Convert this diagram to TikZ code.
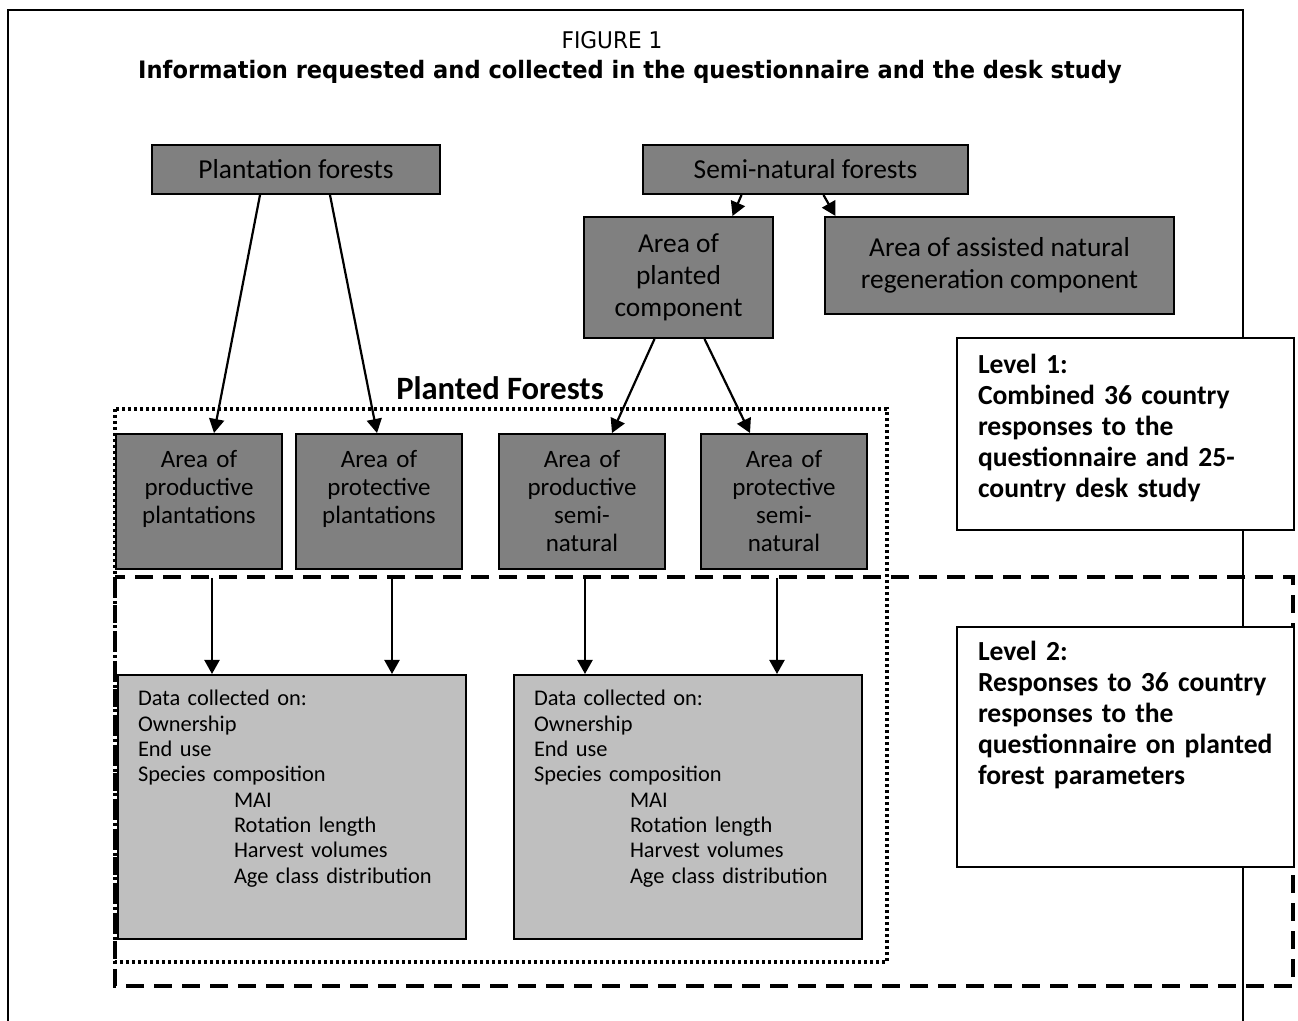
\documentclass[tikz,border=0pt]{standalone}
\usepackage{fontspec}
\setmainfont{Carlito}
\newfontfamily\titlefont{DejaVu Sans}[FakeStretch=0.94]
\usetikzlibrary{arrows.meta,positioning}
\tikzset{
  basic/.style  = {draw, line width=1pt, rectangle, inner sep=0pt},
  forest/.style = {basic, fill=black!50, align=center, font=\fontsize{13.7}{16}\selectfont},
  area/.style   = {basic, fill=black!50, align=center, text width=83pt, text height=17pt,
                   text depth=50.5pt, font=\fontsize{12.5}{14}\selectfont},
  data/.style   = {basic, fill=black!25, align=left, inner xsep=10pt, text width=154pt,
                   text height=15.5pt, text depth=116.5pt, font=\fontsize{11.2}{12.65}\selectfont},
  note/.style   = {basic, fill=white, align=left, inner xsep=10.5pt, text width=147.5pt,
                   font=\fontsize{13.8}{15.5}\selectfont\bfseries},
  flow/.style   = {-{Triangle[length=7pt,width=7.5pt]}, line width=1.1pt},
  frame/.style  = {line width=1.2pt}
}
\newcommand{\datatext}{Data collected on:\\ Ownership\\ End use\\ Species composition\\
  \hspace*{48pt}MAI\\ \hspace*{48pt}Rotation length\\ \hspace*{48pt}Harvest volumes\\
  \hspace*{48pt}Age class distribution}

\begin{document}
\begin{tikzpicture}[x=0.5pt,y=-0.5pt]
    \useasboundingbox (0,0) rectangle (1298,1021);

    % outer frame and titles
    \draw[frame] (8,1021) |- (1243,10) -- (1243,1021);
    \node[anchor=base, font=\titlefont\fontsize{11.5}{14}\selectfont] (fig) at (612,49) {FIGURE 1};
    \node[anchor=base, font=\titlefont\fontsize{12}{14}\selectfont\bfseries] (title) at (630,79)
      {Information requested and collected in the questionnaire and the desk study};

    % the two levels
    \draw[line width=1.6pt, dash pattern=on 1.6pt off 1.4pt] (115,409) rectangle (887,962);
    \draw[line width=1.75pt, dash pattern=on 9pt off 5pt] (115,577) rectangle (1293,986);
    \node[anchor=base, font=\fontsize{16.3}{18}\selectfont\bfseries] (pf) at (500,400) {Planted Forests};

    % forest types
    \node[forest, minimum width=144pt, minimum height=24.5pt] (plant) at (296,169.5) {Plantation forests};
    \node[forest, minimum width=162.5pt, minimum height=24.5pt] (semi) at (805.5,169.5) {Semi-natural forests};
    \node[forest, minimum width=94.5pt, minimum height=60.5pt] (comp) at (678.5,277.5) {Area of\\ planted\\ component};
    \node[forest, minimum width=174.5pt, minimum height=48.5pt, right=25pt of comp.north east, anchor=north west] (anr)
      {Area of assisted natural\\ regeneration component};

    % planted forest areas
    \node[area, anchor=north] (pp) at (199,433) {Area of\\ productive\\ plantations};
    \node[area, right=6pt of pp] (pt) {Area of\\ protective\\ plantations};
    \node[area, right=17.5pt of pt] (sp) {Area of\\ productive\\ semi-\\ natural};
    \node[area, right=17pt of sp] (st) {Area of\\ protective\\ semi-\\ natural};

    % collected data
    \node[data, anchor=north west] (dl) at (117,674) {\datatext};
    \node[data, right=23pt of dl] (dr) {\datatext};

    % level notes
    \node[note, anchor=north west, text height=18pt, text depth=78pt] (lvl1) at (956,337)
      {Level 1:\\ Combined 36 country\\ responses to the\\ questionnaire and 25-\\ country desk study};
    \node[note, anchor=north west, text height=17pt, text depth=103pt] (lvl2) at (956,626)
      {Level 2:\\ Responses to 36 country\\ responses to the\\ questionnaire on planted\\ forest parameters};

    % arrows
    \draw[flow] ([xshift=-18pt]plant.south) -- ([xshift=7.5pt]pp.north);
    \draw[flow] ([xshift=17pt]plant.south) -- ([xshift=-1pt]pt.north);
    \draw[flow] ([xshift=-32pt]semi.south) -- ([xshift=27pt]comp.north);
    \draw[flow] ([xshift=9pt]semi.south) -- ([xshift=-82pt]anr.north);
    \draw[flow] ([xshift=-12pt]comp.south) -- ([xshift=15pt]sp.north);
    \draw[flow] ([xshift=13pt]comp.south) -- ([xshift=-17pt]st.north);

    \coordinate (v1) at (212,578);
    \coordinate (v2) at (392,578);
    \coordinate (v3) at (585,578);
    \coordinate (v4) at (777,578);
    \foreach \i/\target in {1/dl,2/dl,3/dr,4/dr}
      \draw[flow] (v\i) -- (v\i |- \target.north);
\end{tikzpicture}
\end{document}
